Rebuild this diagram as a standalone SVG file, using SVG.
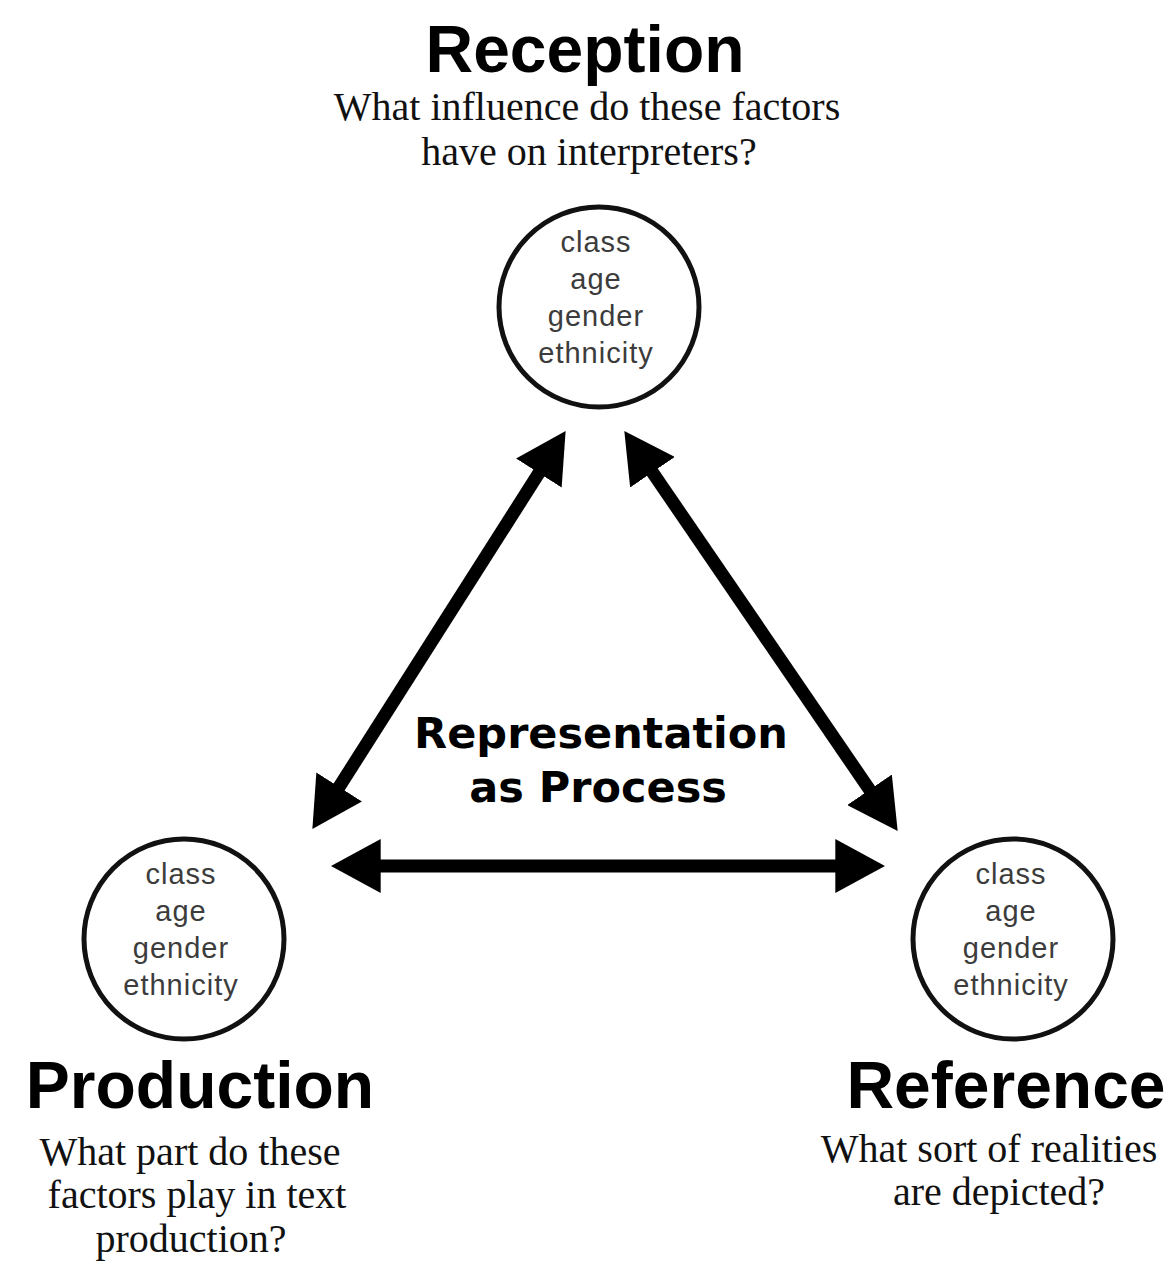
<svg xmlns="http://www.w3.org/2000/svg" width="1175" height="1277" viewBox="0 0 1175 1277">
  <style>
    .circ { fill: #ffffff; stroke: #111111; stroke-width: 5; }
    .factor { font-family: "Liberation Sans", Arial, sans-serif; font-size: 29px; letter-spacing: 1px; fill: #3c3c3c; text-anchor: middle; }
    .title { font-family: "Liberation Sans", Arial, sans-serif; font-weight: bold; font-size: 66px; fill: #000000; text-anchor: middle; }
    .question { font-family: "Liberation Serif", "Times New Roman", serif; font-size: 40px; fill: #111111; text-anchor: middle; }
    .center { font-family: "DejaVu Sans", "Liberation Sans", sans-serif; font-weight: bold; font-size: 43px; fill: #000000; text-anchor: middle; }
    .conn { stroke: #000000; stroke-width: 13; fill: none; }
  </style>
  <defs>
    <marker id="head" markerUnits="userSpaceOnUse" markerWidth="50" markerHeight="54" viewBox="0 0 48 52" refX="18" refY="26" orient="auto-start-reverse">
      <path d="M0,0 L48,26 L0,52 Z" fill="#000000"/>
    </marker>
  </defs>
  <rect x="0" y="0" width="1175" height="1277" fill="#ffffff"/>

  <g id="reception">
    <text class="title" x="585" y="72">Reception</text>
    <text class="question" x="587" y="120">What influence do these factors</text>
    <text class="question" x="589" y="165">have on interpreters?</text>
    <circle class="circ" cx="599" cy="307" r="100"/>
    <text class="factor" x="596" y="252">class</text>
    <text class="factor" x="596" y="289">age</text>
    <text class="factor" x="596" y="326">gender</text>
    <text class="factor" x="596" y="363">ethnicity</text>
  </g>

  <g id="production">
    <circle class="circ" cx="184" cy="939" r="100"/>
    <text class="factor" x="181" y="884">class</text>
    <text class="factor" x="181" y="921">age</text>
    <text class="factor" x="181" y="958">gender</text>
    <text class="factor" x="181" y="995">ethnicity</text>
    <text class="title" x="200" y="1108">Production</text>
    <text class="question" x="190" y="1165">What part do these</text>
    <text class="question" x="197" y="1208">factors play in text</text>
    <text class="question" x="191" y="1252">production?</text>
  </g>

  <g id="reference">
    <circle class="circ" cx="1013" cy="939" r="100"/>
    <text class="factor" x="1011" y="884">class</text>
    <text class="factor" x="1011" y="921">age</text>
    <text class="factor" x="1011" y="958">gender</text>
    <text class="factor" x="1011" y="995">ethnicity</text>
    <text class="title" x="1006" y="1108">Reference</text>
    <text class="question" x="989" y="1162">What sort of realities</text>
    <text class="question" x="999" y="1205">are depicted?</text>
  </g>

  <g id="representation">
    <text class="center" x="601" y="748">Representation</text>
    <text class="center" x="598" y="802">as Process</text>
  </g>

  <g id="connectors">
    <line class="conn" x1="329.1" y1="802.7" x2="548.9" y2="457.3" marker-start="url(#head)" marker-end="url(#head)"/>
    <line class="conn" x1="641.9" y1="456.8" x2="880.1" y2="805.2" marker-start="url(#head)" marker-end="url(#head)"/>
    <line class="conn" x1="362" y1="866" x2="854" y2="866" marker-start="url(#head)" marker-end="url(#head)"/>
  </g>
</svg>
